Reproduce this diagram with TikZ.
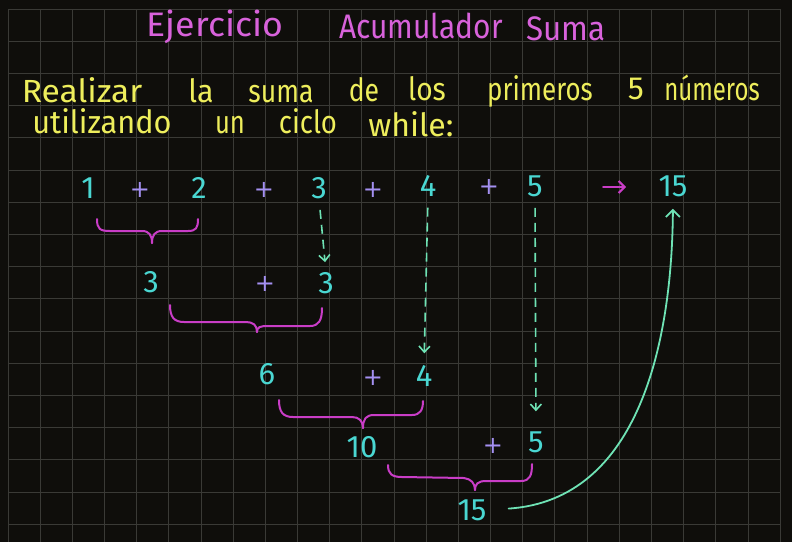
\documentclass[tikz,border=0pt]{standalone}
\usepackage{fontspec}
\setmainfont{Fira Sans}
\newfontfamily\plusfont{DejaVu Sans}
\usetikzlibrary{arrows.meta}
\definecolor{bg}{HTML}{0F0E0B}
\definecolor{gridc}{HTML}{3A3A36}
\definecolor{ttl}{HTML}{D862DB}
\definecolor{ylw}{HTML}{EEEE5C}
\definecolor{cyn}{HTML}{4AD7D2}
\definecolor{lav}{HTML}{A490F2}
\definecolor{brc}{HTML}{C93DC7}
\definecolor{mint}{HTML}{6FE3B5}
\newcommand\sqz[2]{\scalebox{#1}[1]{#2}}
\begin{document}
\begin{tikzpicture}[x=1pt,y=-1pt,
  gridline/.style={draw=gridc,line width=0.8pt},
  titletext/.style={text=ttl,font=\fontsize{34}{40}\selectfont,anchor=base,inner sep=0pt},
  bodytext/.style={text=ylw,font=\fontsize{32}{38}\selectfont,anchor=base,inner sep=0pt},
  num/.style={text=cyn,font=\fontsize{31}{36}\selectfont,inner sep=0pt},
  plussign/.style={text=lav,font=\plusfont\fontsize{24}{28}\selectfont,inner sep=0pt},
  bracepath/.style={draw=brc,line width=2pt,line cap=round,line join=round},
  dasharrow/.style={draw=mint,line width=1.6pt,dash pattern=on 9pt off 6pt,-{Straight Barb[length=6pt,width=11pt,line width=1.6pt]}},
  curvearrow/.style={draw=mint,line width=1.8pt,line cap=round,-{Straight Barb[length=7pt,width=14pt,line width=1.8pt]}},
  magarrow/.style={draw=brc,line width=2pt,line cap=round,-{Straight Barb[length=6pt,width=12pt,line width=2pt]}}
]
\fill[bg] (0,0) rectangle (792,542);
\useasboundingbox (0,0) rectangle (792,542);
% grid
\foreach \i in {0,...,24} \draw[gridline] ({8+32.17*\i},9) -- ({8+32.17*\i},542);
\foreach \j in {0,...,16} \draw[gridline] (8,{9+32.2*\j}) -- (780,{9+32.2*\j});

% title
\node[titletext] (t1) at (215,36) {\sqz{1.05}{Ejercicio}};
\node[titletext] (t2) at (421,38) {\sqz{0.88}{Acumulador}};
\node[titletext] (t3) at (566,40) {\sqz{0.92}{Suma}};

% statement
\node[bodytext] (w1) at (82,102) {\sqz{1.05}{Realizar}};
\node[bodytext] (w2) at (201,102) {\sqz{0.95}{la}};
\node[bodytext] (w3) at (281,102) {\sqz{0.83}{suma}};
\node[bodytext] (w4) at (364,101) {\sqz{0.83}{de}};
\node[bodytext] (w5) at (427,100) {\sqz{0.88}{los}};
\node[bodytext] (w6) at (540,100) {\sqz{0.81}{primeros}};
\node[bodytext] (w7) at (636,99) {5};
\node[bodytext] (w8) at (712,100) {\sqz{0.75}{números}};
\node[bodytext] (v1) at (102,133) {\sqz{0.96}{utilizando}};
\node[bodytext] (v2) at (230,133) {\sqz{0.8}{un}};
\node[bodytext] (v3) at (308,133) {\sqz{0.86}{ciclo}};
\node[bodytext] (v4) at (411,136) {\sqz{1.0}{while:}};

% row 1
\node[num] (a1) at (88,188) {1};
\node[plussign] (p1) at (140,190) {+};
\node[num] (a2) at (199,188) {2};
\node[plussign] (p2) at (264,190) {+};
\node[num] (a3) at (319,188) {3};
\node[plussign] (p3) at (373,190) {+};
\node[num] (a4) at (428,186) {4};
\node[plussign] (p4) at (489,187) {+};
\node[num] (a5) at (535,186) {5};
\coordinate (ms) at (603,187);
\coordinate (me) at (626,187);
\draw[magarrow] (ms) -- (me);
\node[num] (res) at (673,186) {15};

% row 2
\node[num] (b1) at (151,282) {3};
\node[plussign] (bp) at (265,284) {+};
\node[num] (b2) at (326,283) {3};
% row 3
\node[num] (c1) at (267,374) {6};
\node[plussign] (cp) at (373,378) {+};
\node[num] (c2) at (424,376) {4};
% row 4
\node[num] (d1) at (362,447) {10};
\node[plussign] (dp) at (493,446) {+};
\node[num] (d2) at (536,442) {5};
% row 5
\node[num] (e1) at (472,510) {15};

% braces
\draw[bracepath] (97,219) .. controls (97,229) and (100,231) .. (110,231) -- (142,231) .. controls (149,231) and (152,235) .. (152,243);
\draw[bracepath] (152,243) .. controls (152,235) and (155,231) .. (162,231) -- (188,231) .. controls (196,231) and (198,228) .. (198,219);

\draw[bracepath] (170,305) .. controls (170,317) and (174,322) .. (184,322) -- (246,322) .. controls (253,322) and (257,325) .. (257,332);
\draw[bracepath] (257,332) .. controls (257,327) and (260,326) .. (268,326) -- (310,326) .. controls (319,326) and (322,320) .. (322,308);

\draw[bracepath] (279,400) .. controls (279,412) and (283,417) .. (293,417) -- (352,417) .. controls (359,417) and (363,421) .. (363,428);
\draw[bracepath] (363,428) .. controls (363,419) and (366,415) .. (374,415) -- (412,415) .. controls (420,415) and (423,410) .. (423,401);

\draw[bracepath] (388,465) .. controls (388,474) and (392,477) .. (402,477) -- (464,478) .. controls (471,479) and (475,483) .. (475,490);
\draw[bracepath] (475,490) .. controls (475,484) and (478,481) .. (486,481) -- (521,481) .. controls (530,481) and (532,475) .. (532,464);

% dashed arrows
\draw[dasharrow,shorten <=11pt,shorten >=10pt] (a3.south) -- (b2.north);
\draw[dasharrow,shorten <=11pt,shorten >=12pt] (a4.south) -- (c2.north);
\draw[dasharrow,shorten <=11pt,shorten >=20pt] (a5.south) -- (d2.north);

% curved arrow
\draw[curvearrow,shorten <=22pt,shorten >=12pt] (e1.east) .. controls (640,500) and (672,340) .. (res.south);
\end{tikzpicture}
\end{document}
